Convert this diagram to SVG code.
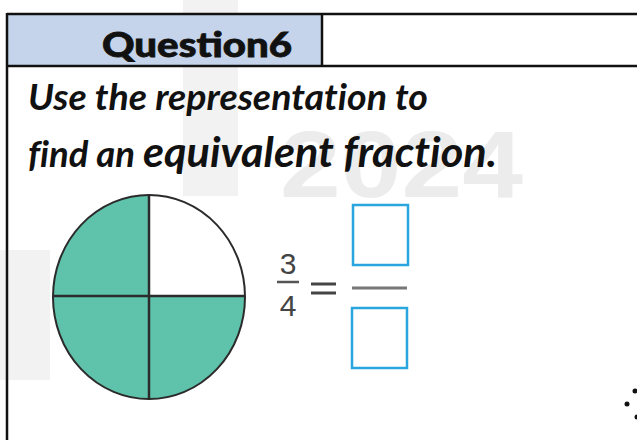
<svg xmlns="http://www.w3.org/2000/svg" width="637" height="440" viewBox="0 0 637 440">
<style>
.wm{fill:#f2f2f2}
.border{stroke:#111;stroke-width:2.5;fill:none}
.q{font-family:Lato,"Liberation Sans",sans-serif;font-weight:bold;font-style:italic;fill:#111;font-variant-ligatures:none}
.h{font-family:Lato,"Liberation Sans",sans-serif;font-weight:900;fill:#111;stroke:#111;stroke-width:0.8}
.num{font-family:"Liberation Sans",Arial,sans-serif;fill:#444;font-size:30px}
.box{fill:none;stroke:#2aa6df;stroke-width:2.5}
.quad{fill:#5fc2ab;stroke:none}
</style>
<rect width="637" height="440" fill="#ffffff"/>
<g id="watermark">
<rect class="wm" x="183" y="0" width="55" height="60"/>
<rect class="wm" x="183" y="66" width="55" height="130"/>
<rect class="wm" x="0" y="250" width="50" height="130"/>
<text x="280" y="197" font-family="'Liberation Sans',sans-serif" font-weight="bold" font-size="95" fill="#ececec" textLength="243" lengthAdjust="spacingAndGlyphs">2024</text>
</g>
<g id="header">
<rect x="7" y="14" width="315" height="52" fill="#c5d4ea"/>
<text class="h" x="102" y="57" font-size="35" textLength="190" lengthAdjust="spacingAndGlyphs">Question6</text>
</g>
<g id="table">
<line class="border" x1="7" y1="14" x2="637" y2="14"/>
<line class="border" x1="7" y1="66" x2="637" y2="66"/>
<line class="border" x1="7" y1="13" x2="7" y2="440"/>
<line class="border" x1="322" y1="14" x2="322" y2="66"/>
</g>
<g id="question">
<text class="q" x="28" y="110" font-size="36" textLength="400" lengthAdjust="spacingAndGlyphs">Use the representation to</text>
<text class="q" x="28" y="167" font-size="36" textLength="107" lengthAdjust="spacingAndGlyphs">find an</text>
<text class="q" x="143" y="167" font-size="42" textLength="354" lengthAdjust="spacingAndGlyphs">equivalent fraction.</text>
</g>
<g id="circle">
<path class="quad" d="M149,297 L149,195 A96,102 0 0 0 53,297 Z"/>
<path class="quad" d="M149,297 L53,297 A96,102 0 0 0 149,399 Z"/>
<path class="quad" d="M149,297 L149,399 A96,102 0 0 0 245,297 Z"/>
<ellipse cx="149" cy="297" rx="96" ry="102" fill="none" stroke="#2b2b2b" stroke-width="2"/>
<line x1="149" y1="195" x2="149" y2="399" stroke="#2b2b2b" stroke-width="2.5"/>
<line x1="53" y1="296" x2="245" y2="296" stroke="#2b2b2b" stroke-width="2.5"/>
</g>
<g id="fraction">
<text class="num" x="288" y="274" text-anchor="middle">3</text>
<line x1="277" y1="282" x2="299" y2="282" stroke="#555" stroke-width="2.5"/>
<text class="num" x="288" y="316" text-anchor="middle">4</text>
<line x1="311" y1="284" x2="336" y2="284" stroke="#444" stroke-width="3"/>
<line x1="311" y1="293" x2="336" y2="293" stroke="#444" stroke-width="3"/>
<line x1="352" y1="288" x2="407" y2="288" stroke="#777" stroke-width="3"/>
<rect class="box" x="353" y="205" width="55" height="60"/>
<rect class="box" x="352" y="308" width="55" height="60"/>
</g>
<g id="dots" fill="#111">
<circle cx="635" cy="391" r="2.5"/>
<circle cx="627" cy="404" r="2.5"/>
<circle cx="637" cy="417" r="2.5"/>
</g>
</svg>
